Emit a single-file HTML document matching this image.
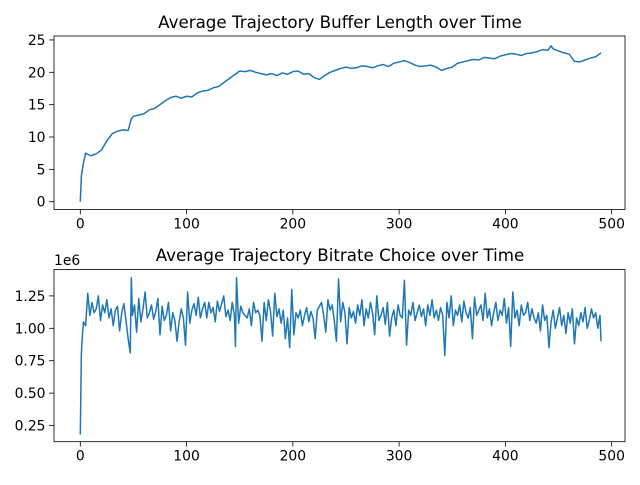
<!DOCTYPE html>
<html><head><meta charset="utf-8"><style>
body{margin:0;background:#fff}
svg text{font-family:"DejaVu Sans","Liberation Sans",sans-serif;fill:#000}
</style></head><body>
<svg id="c" width="640" height="480"></svg>
<script>
const bufferX=[0,1,3,5,10,15,20,25,30,35,40,45,48,50,55,60,65,70,75,80,85,90,95,100,105,110,115,120,125,130,135,140,145,150,155,160,165,170,175,180,185,190,195,200,205,210,215,220,225,230,235,240,245,250,255,260,265,270,275,280,285,290,295,300,305,310,315,320,325,330,335,340,345,350,355,360,365,370,375,380,385,390,395,400,405,410,415,420,425,430,435,440,443,445,450,455,460,465,470,475,480,485,490];
const bufferY=[0,4,6,7.5,7.1,7.4,8,9.4,10.5,10.9,11.1,11,12.8,13.2,13.4,13.6,14.2,14.4,15,15.6,16.1,16.3,16,16.3,16.2,16.8,17.1,17.2,17.6,17.8,18.4,19,19.6,20.2,20.1,20.3,20,19.8,19.6,19.8,19.5,19.9,19.7,20.1,20.2,19.7,19.8,19.2,18.9,19.5,20,20.3,20.6,20.8,20.6,20.7,21,20.9,20.7,21,21.2,20.9,21.4,21.6,21.8,21.5,21.1,20.9,21,21.1,20.8,20.3,20.6,20.8,21.4,21.6,21.8,22,21.9,22.3,22.2,22.1,22.5,22.7,22.9,22.8,22.6,22.9,23,23.2,23.5,23.4,24.1,23.6,23.3,23,22.8,21.7,21.6,21.9,22.2,22.4,23];
const rateX=[0,1,2,3,5,7,9,11,13,15,17,19,21,23,25,27,29,31,33,35,37,39,41,43,45,47,48,49,51,53,55,57,59,61,63,65,67,69,71,73,75,77,79,81,83,85,87,89,91,93,95,97,99,101,103,105,107,109,111,113,115,117,119,121,123,125,127,129,131,133,135,137,139,141,143,145,146,147,149,151,153,155,157,159,161,163,165,167,169,171,173,175,177,179,181,183,185,187,189,191,193,195,197,199,201,203,205,207,209,211,213,215,217,219,221,223,225,227,229,231,233,235,237,239,241,243,245,247,249,251,253,255,257,259,261,263,265,267,269,271,273,275,277,279,281,283,285,287,289,291,293,295,297,299,301,303,305,307,309,311,313,315,317,319,321,323,325,327,329,331,333,335,337,339,341,343,345,347,349,351,353,355,357,359,361,363,365,367,369,371,373,375,377,379,381,383,385,387,389,391,393,395,397,399,401,403,405,407,409,411,413,415,417,419,421,423,425,427,429,431,433,435,437,439,441,443,445,447,449,451,453,455,457,459,461,463,465,467,469,471,473,475,477,479,481,483,485,487,489,490];
const rateY=[0.18,0.8,0.95,1.05,1.02,1.27,1.1,1.2,1.12,1.15,
1.25,1.06,1.18,1.12,1.22,1.08,1.15,1.02,1.14,1.17,
0.98,1.12,1.19,1.06,0.92,0.81,1.39,1.1,1.18,0.97,
1.23,1.05,1.15,1.28,1.08,1.12,1.18,1.07,1.13,1.23,
0.95,1.17,1.06,1.1,1.2,0.98,1.12,1.06,0.9,1.05,
1.15,1.08,0.87,1.28,1.04,1.14,1.19,1.1,1.24,1.08,
1.15,1.2,1.08,1.2,1.12,1.16,1.05,1.21,1.13,1.19,
1.25,1.09,1.14,1.06,1.2,1.1,0.86,1.39,1.04,1.17,
1.12,1.1,1.08,1.15,1.02,1.2,1.12,1.14,1.1,0.9,
1.2,1.06,1.22,1.13,0.94,1.27,1.09,1.15,1.04,1.14,
0.92,1.08,0.85,1.3,0.95,1.12,1.08,1.14,1.02,1.1,
1.16,1.05,1.13,1.08,0.92,1.14,1.17,1.2,1.1,0.97,
1.22,1.14,1.18,1.06,0.9,1.38,1.05,1.2,1.12,0.88,
1.16,1.08,1.13,1.04,1.18,1.1,1.22,1.02,1.15,1.08,
1.2,1.12,0.95,1.25,1.06,1.1,1.16,1.03,1.2,0.94,
1.08,1.14,1.02,1.18,1.1,
1.08,1.37,0.87,1.14,1.1,1.2,1.06,1.12,1.18,1.09,
1.15,1.02,1.18,1.1,1.22,1.08,1.14,1.06,1.16,1.1,
0.79,1.2,1.08,1.25,1.02,1.14,1.1,1.18,1.05,1.21,
1.12,1.08,1.16,0.92,1.24,1.1,1.14,1.18,1.06,1.27,
1.08,1.15,1.02,1.12,1.2,1.06,1.14,1.1,1.23,1.04,
1.16,0.86,1.28,1.08,1.14,1.02,1.18,1.1,1.12,1.2,
1.06,1.15,1.08,1.04,1.12,0.98,1.18,1.06,1.1,0.85,
1.05,1.14,1.0,1.08,1.16,1.02,1.1,0.96,1.12,1.04,
1.15,0.88,1.08,1.02,1.12,1.05,1.16,1.0,1.06,1.15,
1.08,1.12,1.0,1.1,0.9];
const bufTicks=[0,5,10,15,20,25];
const rateTicks=[0.25,0.5,0.75,1.0,1.25];
const xTicks=[0,100,200,300,400,500];

const NS="http://www.w3.org/2000/svg";
const svg=document.getElementById('c');
function mk(t,a,p){const e=document.createElementNS(NS,t);for(const k in a)e.setAttribute(k,a[k]);(p||svg).appendChild(e);return e;}
const sx=v=>80.3+v*1.0627;
const sy1=v=>201.7-v*6.47;
const sy2=v=>328.3-(v-1)*129.6;

function axes(top,bottom,yTicks,sy,fmt,xs,ys,name,title,titleY){
  const g=mk('g',{});
  
  
  const t=mk('text',{x:340,y:titleY,'font-size':16.7,'text-anchor':'middle'},g);
  t.textContent=title;
  
  
  xTicks.forEach(v=>{
    mk('line',{x1:sx(v),x2:sx(v),y1:bottom,y2:bottom+4.9,stroke:'#000','stroke-width':0.8},g);
    const l=mk('text',{x:sx(v),y:bottom+19,'font-size':13.9,'text-anchor':'middle'},g);
    l.textContent=v;
    
    
  });
  yTicks.forEach(v=>{
    mk('line',{x1:49.1,x2:54,y1:sy(v),y2:sy(v),stroke:'#000','stroke-width':0.8},g);
    const l=mk('text',{x:45.5,y:sy(v)+5,'font-size':13.9,'text-anchor':'end'},g);
    l.textContent=fmt(v);
    
    
  });
  let d='';
  const n=Math.min(xs.length,ys.length);
  for(let i=0;i<n;i++){d+=(i?'L':'M')+sx(xs[i]).toFixed(2)+','+sy(ys[i]).toFixed(2);}
  const p=mk('path',{d:d,fill:'none',stroke:'#1f77b4','stroke-width':1.5,'stroke-linejoin':'round'},g);
  
  
  mk('rect',{x:54,y:top,width:571,height:bottom-top,fill:'none',stroke:'#000','stroke-width':0.8},g);
}
axes(36,209.5,bufTicks,sy1,v=>v,bufferX,bufferY,'buffer-plot','Average Trajectory Buffer Length over Time',28);
axes(269.5,441.7,rateTicks,sy2,v=>v.toFixed(2),rateX,rateY,'bitrate-plot','Average Trajectory Bitrate Choice over Time',261);
const off=mk('text',{x:54,y:265,'font-size':13.9});
off.textContent='1e6';


</script>
</body></html>
